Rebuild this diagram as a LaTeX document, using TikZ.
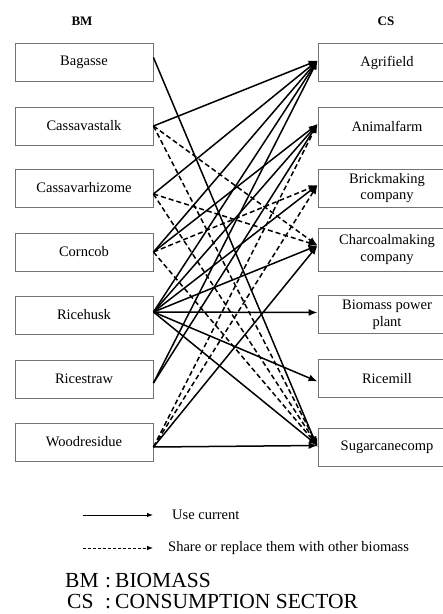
\documentclass[tikz,border=0pt]{standalone}
\usepackage{fontspec}
\setmainfont{Liberation Serif}
\usetikzlibrary{arrows.meta}

\begin{document}
\begin{tikzpicture}[x=1pt,y=-1pt,
  box/.style={draw=black!55, line width=0.9pt, minimum width=138pt,
    minimum height=38pt, inner sep=0pt, align=center,
    font=\fontsize{14.5}{16.5}\selectfont},
  head/.style={font=\fontsize{13}{15}\selectfont\bfseries},
  use/.style={line width=1.5pt, -{Latex[length=9pt,width=7pt]}},
  share/.style={use, dash pattern=on 5pt off 3pt},
  keyuse/.style={line width=0.8pt, -{Latex[length=6pt,width=4.5pt]}},
  keyshare/.style={keyuse, dash pattern=on 3pt off 2pt},
  keytext/.style={anchor=west, inner sep=0pt, font=\fontsize{14.5}{16}\selectfont},
  abbr/.style={anchor=base west, inner sep=0pt, font=\fontsize{21.5}{24}\selectfont},
]
\useasboundingbox (0,0) rectangle (443,614);
\clip (0,0) rectangle (443,614);

% column headings
\node[head] (hbm) at (82,21) {BM};
\node[head] (hcs) at (386,21) {CS};

% biomass
\node[box] (bag) at (84,62.5) {Bagasse};
\node[box] (cst) at (84,126) {Cassavastalk};
\node[box] (crh) at (84,188) {Cassavarhizome};
\node[box] (cob) at (84,252) {Corncob};
\node[box] (rhu) at (84,315) {Ricehusk};
\node[box] (rst) at (84,379) {Ricestraw};
\node[box] (wdr) at (84,442) {Woodresidue};

% consumption sectors
\node[box] (agr) at (387,62.5) {Agrifield};
\node[box] (ani) at (387,126) {Animalfarm};
\node[box] (bri) at (387,188) {Brickmaking\\company};
\node[box, minimum height=43pt] (cha) at (387,249.5) {Charcoalmaking\\company};
\node[box] (bio) at (387,314.5) {Biomass power\\plant};
\node[box] (ric) at (387,378.5) {Ricemill};
\node[box] (sug) at (387,447.5) {Sugarcanecomp};

% current use
\draw[use] ([yshift=5pt]bag.east) -- (sug.west);
\draw[use] (cst.east) -- ([yshift=2pt]agr.west);
\draw[use] ([yshift=-6pt]crh.east) -- ([yshift=2pt]agr.west);
\draw[use] (cob.east) -- ([yshift=2pt]agr.west);
\draw[use] (cob.east) -- ([yshift=2pt]ani.west);
\draw[use] ([yshift=3pt]rhu.east) -- ([yshift=2pt]agr.west);
\draw[use] ([yshift=3pt]rhu.east) -- ([yshift=2pt]ani.west);
\draw[use] ([yshift=3pt]rhu.east) -- ([yshift=3pt]bri.west);
\draw[use] ([yshift=3pt]rhu.east) -- ([yshift=4pt]cha.west);
\draw[use] ([yshift=3pt]rhu.east) -- ([yshift=2pt]bio.west);
\draw[use] ([yshift=3pt]rhu.east) -- ([yshift=-3pt]ric.west);
\draw[use] ([yshift=3pt]rhu.east) -- ([yshift=2pt]sug.west);
\draw[use] ([yshift=-4pt]rst.east) -- ([yshift=2pt]agr.west);
\draw[use] ([yshift=-4pt]rst.east) -- ([yshift=2pt]ani.west);
\draw[use] ([yshift=-5pt]wdr.east) -- ([yshift=4pt]cha.west);
\draw[use] ([yshift=-5pt]wdr.east) -- ([yshift=2pt]sug.west);

% shared or replaced
\draw[share] (cst.east) -- ([yshift=4pt]cha.west);
\draw[share] (cst.east) -- ([yshift=2pt]sug.west);
\draw[share] ([yshift=-6pt]crh.east) -- ([yshift=4pt]cha.west);
\draw[share] ([yshift=-6pt]crh.east) -- ([yshift=2pt]sug.west);
\draw[share] (cob.east) -- ([yshift=3pt]bri.west);
\draw[share] (cob.east) -- ([yshift=2pt]sug.west);
\draw[share] ([yshift=-5pt]wdr.east) -- ([yshift=3pt]bri.west);
\draw[share] ([yshift=-5pt]wdr.east) -- ([yshift=2pt]ani.west);

% key
\coordinate (k1a) at (83,515);
\coordinate (k1b) at (153,515);
\coordinate (k2a) at (83,548);
\coordinate (k2b) at (153,548);
\draw[keyuse] (k1a) -- (k1b);
\draw[keyshare] (k2a) -- (k2b);
\node[keytext] (k1t) at (172,515) {Use current};
\node[keytext] (k2t) at (168,548) {Share or replace them with other biomass};

% abbreviations
\node[abbr] (a1) at (65,587) {BM};
\node[abbr] (a1c) at (105,587) {:};
\node[abbr] (a1t) at (115,587) {BIOMASS};
\node[abbr] (a2) at (67,608) {CS};
\node[abbr] (a2c) at (105,608) {:};
\node[abbr] (a2t) at (115,608) {CONSUMPTION SECTOR};
\end{tikzpicture}
\end{document}
